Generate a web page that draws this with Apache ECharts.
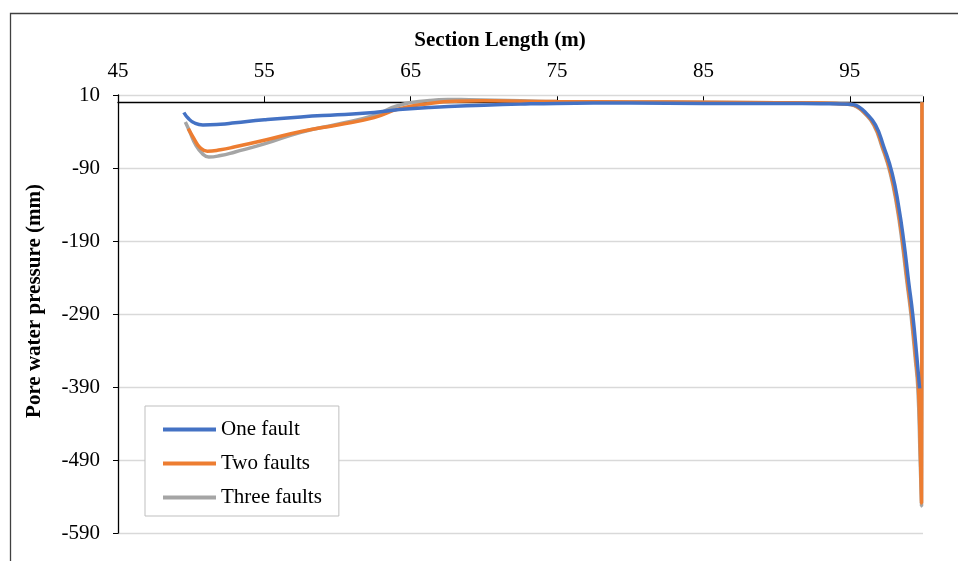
<!DOCTYPE html>
<html>
<head>
<meta charset="utf-8">
<script src="https://cdn.jsdelivr.net/npm/echarts@6/dist/echarts.min.js"></script>
<style>
html,body{margin:0;padding:0;background:#fff;}
#chart{width:958px;height:561px;}
</style>
</head>
<body>
<div id="chart"></div>
<script>
// ---- data (Section Length in m, pore water pressure in mm) ----
var seriesNames = ['One fault', 'Two faults', 'Three faults'];
var xTitle = 'Section Length (m)';
var yTitle = 'Pore water pressure (mm)';

var oneX = [49.5, 49.8, 50.2, 50.8, 52, 53, 55, 57.5, 60, 62.5, 64.2, 66.3, 70, 72.5, 75, 80, 85, 90, 93, 94.5, 95.2, 95.6, 96.07, 96.75, 97.32, 97.89, 98.34, 98.69, 99.02, 99.3, 99.59, 99.77];
var oneY = [-14, -22, -28, -31, -30, -28, -24, -20, -17, -14, -10, -7, -4, -2.5, -1.5, -1, -1.5, -1.5, -2, -2.2, -3, -6, -14, -31, -61, -97, -143, -191, -246, -291, -351, -392];

var twoX = [49.8, 50.2, 50.6, 51.1, 52, 53, 55, 57.5, 60, 62.5, 64.2, 66.3, 68, 70, 72.5, 75, 80, 85, 90, 93, 94.4, 95.1, 95.5, 96.0, 96.67, 97.24, 97.8, 98.26, 98.61, 98.94, 99.22, 99.51, 99.69, 99.82, 99.9, 99.93];
var twoY = [-36, -50, -62, -67, -65, -61, -52, -40, -31, -21, -9, -1.5, 1.5, 2, 1.5, 1, 0.5, 0, -0.5, -1, -2, -3, -6, -14, -31, -61, -97, -143, -191, -246, -291, -351, -392, -480, -549, 0];

var threeX = [49.6, 49.9, 50.3, 50.8, 51.2, 52, 53, 55, 57.5, 60, 62.5, 64.2, 66.3, 67.5, 69, 72.5, 75, 80, 85, 90, 93, 94.4, 95.06, 95.46, 95.96, 96.63, 97.2, 97.76, 98.22, 98.57, 98.9, 99.18, 99.47, 99.65, 99.8, 99.9, 99.93];
var threeY = [-27, -40, -58, -71, -75, -73, -68, -57, -41, -30, -18, -4, 2.5, 4, 3.5, 2, 1, 0.5, 0, -0.5, -1, -2, -3, -6, -14, -31, -61, -97, -143, -191, -246, -291, -351, -392, -485, -553, 0];

var xTicks = [45, 55, 65, 75, 85, 95];
var yTicks = [10, -90, -190, -290, -390, -490, -590];

function pairs(xs, ys) {
  var out = [];
  for (var i = 0; i < xs.length; i++) out.push([xs[i], ys[i]]);
  return out;
}

var FONT = '"Liberation Serif", "Times New Roman", serif';
var colors = ['#4472C4', '#ED7D31', '#A5A5A5'];

var chart = echarts.init(document.getElementById('chart'), null, {renderer: 'canvas'});
var option = {
  animation: false,
  backgroundColor: '#fff',
  textStyle: {fontFamily: FONT},
  grid: {left: 118, top: 95, right: 35, bottom: 28, containLabel: false},
  xAxis: [
    {
      type: 'value', min: 45, max: 100, interval: 10, position: 'bottom',
      axisLine: {show: true, onZero: true, lineStyle: {color: '#000', width: 1.3}},
      axisTick: {show: true, inside: true, length: 6, lineStyle: {color: '#000'}},
      axisLabel: {show: false},
      splitLine: {show: false}
    },
    {
      type: 'value', min: 45, max: 100, interval: 10, position: 'top',
      axisLine: {show: false, onZero: false},
      axisTick: {show: false},
      axisLabel: {show: true, margin: 13, fontSize: 21, color: '#000', fontFamily: FONT, showMaxLabel: false,
        formatter: function (v) { return xTicks.indexOf(v) >= 0 ? String(v) : ''; }},
      splitLine: {show: false}
    }
  ],
  yAxis: {
    type: 'value', min: -590, max: 10, interval: 100,
    axisLine: {show: true, onZero: false, lineStyle: {color: '#000', width: 1.3}},
    axisTick: {show: true, length: 5, lineStyle: {color: '#000'}},
    axisLabel: {margin: 18, fontSize: 21, color: '#000', fontFamily: FONT,
      formatter: function (v) { return yTicks.indexOf(v) >= 0 ? String(v) : ''; }},
    splitLine: {show: true, lineStyle: {color: '#d9d9d9', width: 1.3}}
  },
  legend: {
    orient: 'vertical', left: 145, top: 406,
    data: seriesNames,
    icon: 'rect', itemWidth: 53, itemHeight: 4, itemGap: 13,
    padding: [13, 17, 8, 18],
    backgroundColor: '#fff', borderColor: '#bfbfbf', borderWidth: 1,
    textStyle: {fontSize: 21, lineHeight: 21, color: '#000', fontFamily: FONT}
  },
  series: [
    {name: seriesNames[0], type: 'line', xAxisIndex: 0, data: pairs(oneX, oneY), showSymbol: false, symbol: 'none', smooth: 0.5, z: 5,
      lineStyle: {color: colors[0], width: 3.5}, itemStyle: {color: colors[0]}},
    {name: seriesNames[1], type: 'line', xAxisIndex: 0, data: pairs(twoX, twoY), showSymbol: false, symbol: 'none', smooth: 0.5, z: 4,
      lineStyle: {color: colors[1], width: 3.5}, itemStyle: {color: colors[1]}},
    {name: seriesNames[2], type: 'line', xAxisIndex: 0, data: pairs(threeX, threeY), showSymbol: false, symbol: 'none', smooth: 0.5, z: 3,
      lineStyle: {color: colors[2], width: 3.5}, itemStyle: {color: colors[2]}}
  ],
  graphic: [
    {type: 'rect', left: 8, top: 11, z: -10, silent: true,
      shape: {x: 0, y: 0, width: 980, height: 600},
      style: {fill: 'none', stroke: '#404040', lineWidth: 1.3}},
    {type: 'text', x: 500, y: 41, z: 10,
      style: {text: xTitle, fontFamily: FONT, fontSize: 21, fontWeight: 'bold', fill: '#000', align: 'center', verticalAlign: 'middle'}},
    {type: 'text', x: 35, y: 301, rotation: Math.PI / 2, z: 10,
      style: {text: yTitle, fontFamily: FONT, fontSize: 21, fontWeight: 'bold', fill: '#000', align: 'center', verticalAlign: 'middle'}}
  ]
};
chart.setOption(option);
</script>
</body>
</html>
